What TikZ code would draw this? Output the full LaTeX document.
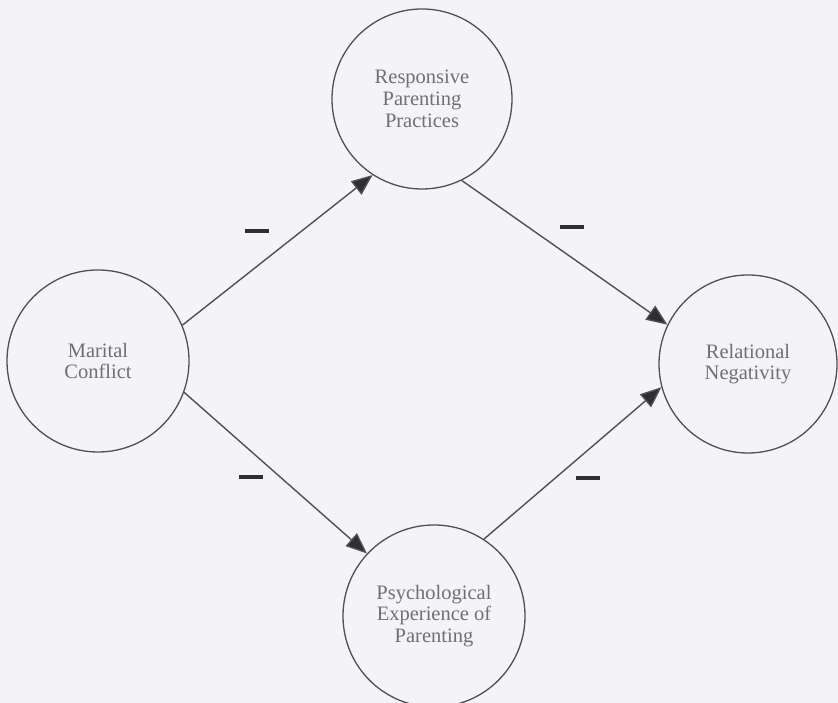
\documentclass[tikz,border=0pt]{standalone}
\usepackage{fontspec}
\setmainfont{Liberation Serif}
\usetikzlibrary{arrows.meta}
\definecolor{bgc}{HTML}{F4F3F8}
\definecolor{linec}{HTML}{505050}
\definecolor{tipc}{HTML}{2E2E33}
\definecolor{txtc}{HTML}{707070}
\begin{document}
\begin{tikzpicture}[x=1pt,y=1pt,
  latent/.style={circle, draw=linec, line width=1.3pt, inner sep=0pt, minimum size=182pt,
    align=center, text=txtc, font=\fontsize{20.5}{21.7}\selectfont},
  path/.style={draw=linec, line width=1.4pt, -{Triangle[length=21pt,width=17pt,fill=tipc]}},
  minus/.style={rectangle, fill=tipc, inner sep=0pt, minimum width=24pt, minimum height=3.5pt}]
\fill[bgc] (0,0) rectangle (838,703);
\useasboundingbox (0,0) rectangle (838,703);
\node[latent] (mc) at (98,342) {Marital\\Conflict};
\node[latent, minimum size=180pt] (rp) at (422,604) {Responsive\\Parenting\\Practices};
\node[latent, minimum size=178pt] (rn) at (748,339) {Relational\\Negativity};
\node[latent] (pe) at (434,87) {Psychological\\Experience of\\Parenting};
\draw[path] (mc.23) -- (rp.-123);
\draw[path] (rp.-64) -- (rn.154);
\draw[path] (mc.-20) -- (pe.137);
\draw[path] (pe.57) -- (rn.195);
\node[minus] (s1) at (257,472) {};
\node[minus] (s2) at (572,476) {};
\node[minus] (s3) at (251,226) {};
\node[minus] (s4) at (588,225) {};
\end{tikzpicture}
\end{document}
